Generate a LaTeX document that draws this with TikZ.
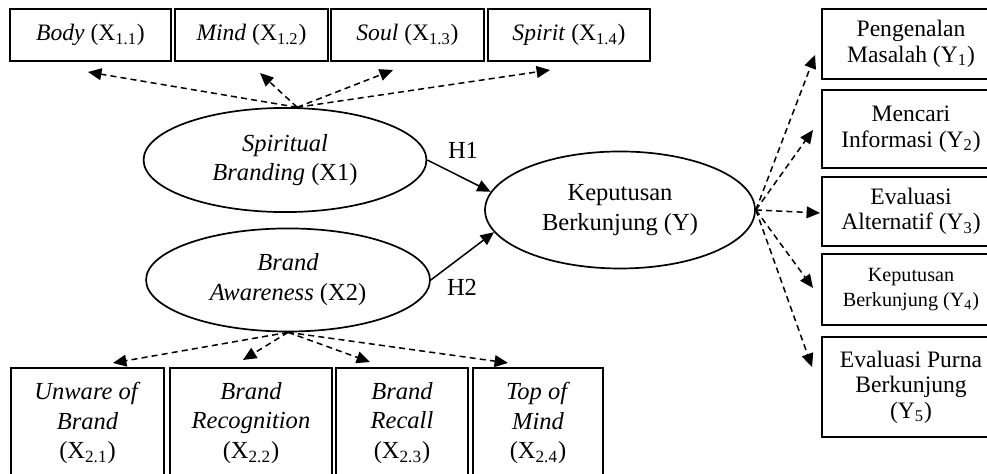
\documentclass[tikz,border=0pt]{standalone}
\usepackage{fontspec}
\setmainfont{Liberation Serif}
\usetikzlibrary{arrows.meta,positioning,shapes.geometric}

\begin{document}
\begin{tikzpicture}[font=\fontsize{13}{15.8}\selectfont,
  ind/.style={draw,line width=0.9pt,inner sep=2pt,align=center,minimum height=0.97cm},
  xbox/.style={ind,font=\fontsize{12.5}{15}\selectfont},
  ybox/.style={ind,minimum width=3.316cm,font=\fontsize{12.5}{13.5}\selectfont},
  lat/.style={ellipse,draw,line width=0.9pt,inner sep=0pt,align=center},
  hyp/.style={-{Triangle[length=2.5mm,width=2.2mm]},line width=0.8pt},
  load/.style={-{Triangle[length=2.5mm,width=2.2mm]},line width=0.8pt,dash pattern=on 3.2pt off 2.2pt}]
  \useasboundingbox (-9.194,-4.415) rectangle (9.194,4.415);
  % indicators of X1
  \node[xbox,minimum width=3cm] (x11) at (-7.508,3.763) {\textit{Body} (X\textsubscript{1.1})};
  \node[xbox,minimum width=2.85cm] (x12) at (-4.508,3.763) {\textit{Mind} (X\textsubscript{1.2})};
  \node[xbox,minimum width=2.85cm] (x13) at (-1.602,3.763) {\textit{Soul} (X\textsubscript{1.3})};
  \node[xbox,minimum width=3.02cm] (x14) at (1.407,3.763) {\textit{Spirit} (X\textsubscript{1.4})};
  % latent variables
  \node[lat,minimum width=5.27cm,minimum height=1.94cm] (x1) at (-3.884,1.434) {\textit{Spiritual}\\\textit{Branding} (X1)};
  \node[lat,minimum width=5.29cm,minimum height=1.92cm] (x2) at (-3.828,-0.801) {\textit{Brand}\\\textit{Awareness} (X2)};
  \node[lat,minimum width=5.03cm,minimum height=2.18cm] (y) at (2.357,0.503) {Keputusan\\Berkunjung (Y)};
  % indicators of X2
  \node[ind,minimum width=2.85cm,minimum height=2.05cm] (x21) at (-7.564,-3.465) {\textit{Unware of}\\\textit{Brand}\\(X\textsubscript{2.1})};
  \node[ind,minimum width=3.02cm,minimum height=2.05cm] (x22) at (-4.518,-3.465) {\textit{Brand}\\\textit{Recognition}\\(X\textsubscript{2.2})};
  \node[ind,minimum width=2.46cm,minimum height=2.05cm] (x23) at (-1.705,-3.465) {\textit{Brand}\\\textit{Recall}\\(X\textsubscript{2.3})};
  \node[ind,minimum width=2.42cm,minimum height=2.05cm] (x24) at (0.829,-3.465) {\textit{Top of}\\\textit{Mind}\\(X\textsubscript{2.4})};
  % indicators of Y
  \node[ybox,minimum height=1.304cm] (y1) at (7.778,3.596) {Pengenalan\\Masalah (Y\textsubscript{1})};
  \node[ybox,minimum height=1.453cm] (y2) at (7.778,2.012) {Mencari\\Informasi (Y\textsubscript{2})};
  \node[ybox,minimum height=1.285cm] (y3) at (7.778,0.475) {Evaluasi\\Alternatif (Y\textsubscript{3})};
  \node[ybox,minimum height=1.323cm,font=\fontsize{10.7}{13}\selectfont] (y4) at (7.778,-0.978) {Keputusan\\Berkunjung (Y\textsubscript{4})};
  \node[ybox,minimum height=1.863cm] (y5) at (7.778,-2.795) {Evaluasi Purna\\Berkunjung\\(Y\textsubscript{5})};
  % arrow ends
  \coordinate (t11) at (-7.554,3.074);
  \coordinate (t12) at (-4.350,3.055);
  \coordinate (t13) at (-1.872,3.111);
  \coordinate (t14) at (1.053,3.111);
  \coordinate (t21) at (-7.089,-2.347);
  \coordinate (t22) at (-4.667,-2.291);
  \coordinate (t23) at (-2.301,-2.329);
  \coordinate (t24) at (0.270,-2.347);
  \coordinate (ty1) at (5.990,3.391);
  \coordinate (ty2) at (5.952,1.993);
  \coordinate (ty3) at (6.083,0.447);
  \coordinate (ty4) at (5.952,-0.950);
  \coordinate (ty5) at (5.934,-2.422);
  % loadings
  \draw[load] (x1.77) -- (t11);
  \draw[load] (x1.77) -- (t12);
  \draw[load] (x1.77) -- (t13);
  \draw[load] (x1.77) -- (t14);
  \draw[load] (x2.south) -- (t21);
  \draw[load] (x2.south) -- (t22);
  \draw[load] (x2.south) -- (t23);
  \draw[load] (x2.south) -- (t24);
  \draw[load] (y.east) -- (ty1);
  \draw[load] (y.east) -- (ty2);
  \draw[load] (y.east) -- (ty3);
  \draw[load] (y.east) -- (ty4);
  \draw[load] (y.east) -- (ty5);
  % hypotheses
  \draw[hyp] (x1.east) -- (y.172);
  \draw[hyp] (x2.east) -- (y.190);
  \node (h1) at (-0.568,1.621) {H1};
  \node (h2) at (-0.587,-0.932) {H2};
\end{tikzpicture}
\end{document}
